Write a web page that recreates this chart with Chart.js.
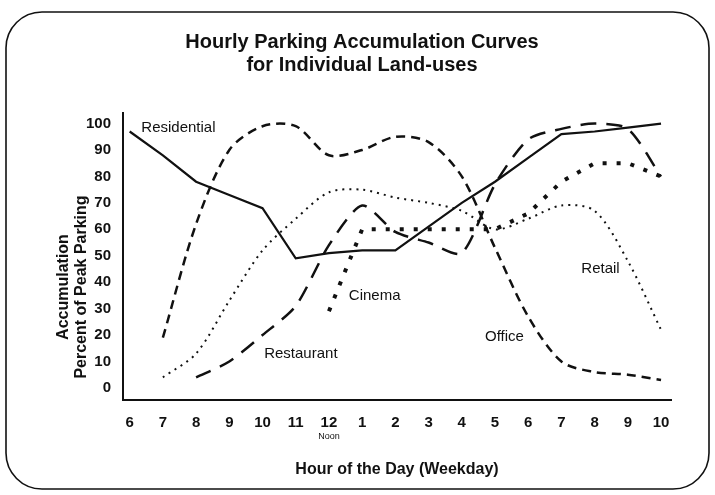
<!DOCTYPE html>
<html>
<head>
<meta charset="utf-8">
<script src="https://cdn.jsdelivr.net/npm/chart.js@4.4.1/dist/chart.umd.min.js"></script>
<style>
  html, body { margin: 0; padding: 0; background: #fff; }
</style>
</head>
<body>
<canvas id="chart-1" width="715" height="495"></canvas>
<script>
// hour of the day, 6 am .. 10 pm
const hourLabels = ["6", "7", "8", "9", "10", "11", "12", "1", "2", "3", "4", "5", "6", "7", "8", "9", "10"];
const yTicks = [0, 10, 20, 30, 40, 50, 60, 70, 80, 90, 100];

// percent of peak parking, one value per hour (null = no data)
const residential = [97, 88, 78, 73, 68, 49, 51, 52, 52, 61, 70, 78, 87, 96, 97, 98.5, 100];
const office = [null, 19, 62, 90, 99, 99, 88, 90, 95, 93, 80, 53, 27, 10, 6, 5, 3];
const retail = [null, 4, 13, 33, 52, 64, 74, 75, 72, 70, 67, 60, 64, 69, 67, 48, 22];
const cinema = [null, null, null, null, null, null, 29, 60, 60, 60, 60, 60, 66, 78, 85, 85, 80];
const restaurant = [null, null, 4, 10, 20, 31, 54, 69, 59, 55, 51, 77, 94, 98, 100, 98, 80];

// curve labels: [text, hour index, value]
const curveLabels = [
  ["Residential", 0.35, 98.5],
  ["Cinema", 6.6, 35],
  ["Restaurant", 4.05, 13],
  ["Office", 10.7, 19.5],
  ["Retail", 13.6, 45],
];

const titleLines = ["Hourly Parking Accumulation Curves", "for Individual Land-uses"];

const ink = "#111";
const font = "'Liberation Sans', Arial, sans-serif";

function pts(values) {
  const out = [];
  values.forEach(function (v, i) {
    if (v !== null) out.push({ x: i, y: v });
  });
  return out;
}

const framePlugin = {
  id: "frame",
  beforeDraw(chart) {
    const c = chart.ctx;
    c.save();
    c.fillStyle = "#fff";
    c.fillRect(0, 0, chart.width, chart.height);
    c.beginPath();
    c.roundRect(6, 12, 703, 477, 36);
    c.lineWidth = 1.6;
    c.strokeStyle = ink;
    c.stroke();
    c.restore();
  },
};

const textPlugin = {
  id: "texts",
  afterDraw(chart) {
    const c = chart.ctx;
    const xs = chart.scales.x;
    const ys = chart.scales.y;
    c.save();
    c.fillStyle = ink;
    c.textBaseline = "middle";
    // title
    c.textAlign = "center";
    c.font = "bold 20px " + font;
    c.fillText(titleLines[0], 362, 42);
    c.fillText(titleLines[1], 362, 65);
    // curve names
    c.textAlign = "left";
    c.font = "15px " + font;
    curveLabels.forEach(function (l) {
      c.fillText(l[0], xs.getPixelForValue(l[1]), ys.getPixelForValue(l[2]));
    });
    // "Noon" under the 12
    c.textAlign = "center";
    c.font = "9px " + font;
    c.fillText("Noon", xs.getPixelForValue(6), 437);
    // y axis title
    c.font = "bold 16px " + font;
    c.translate(73, 287);
    c.rotate(-Math.PI / 2);
    c.fillText("Accumulation", 0, -9);
    c.fillText("Percent of Peak Parking", 0, 9);
    c.restore();
  },
};

function line(label, values, width, dash, tension) {
  return {
    label: label,
    data: pts(values),
    borderColor: ink,
    backgroundColor: ink,
    borderWidth: width,
    borderDash: dash,
    tension: tension,
    pointRadius: 0,
    fill: false,
  };
}

new Chart(document.getElementById("chart-1"), {
  type: "line",
  data: {
    datasets: [
      line("Residential", residential, 2.2, [], 0),
      line("Office", office, 2.5, [9, 6], 0.3),
      line("Retail", retail, 2, [2, 5], 0.3),
      line("Cinema", cinema, 4, [4, 10], 0),
      line("Restaurant", restaurant, 2.5, [16, 10], 0.25),
    ],
  },
  options: {
    responsive: false,
    animation: false,
    layout: {
      padding: { left: 82, right: 44, top: 113, bottom: 16 },
    },
    scales: {
      x: {
        type: "linear",
        min: -0.2,
        max: 16.3,
        grid: { display: false },
        border: { display: true, color: ink, width: 2 },
        afterBuildTicks(axis) {
          axis.ticks = hourLabels.map(function (_, i) { return { value: i }; });
        },
        ticks: {
          color: ink,
          font: { family: font, size: 15, weight: "bold" },
          padding: 6,
          maxRotation: 0,
          autoSkip: false,
          callback: function (v) { return hourLabels[v]; },
        },
        title: {
          display: true,
          text: "Hour of the Day (Weekday)",
          color: ink,
          font: { family: font, size: 16, weight: "bold" },
          padding: { top: 22, bottom: 0 },
        },
      },
      y: {
        min: -4.5,
        max: 104,
        grid: { display: false },
        border: { display: true, color: ink, width: 2 },
        afterBuildTicks(axis) {
          axis.ticks = yTicks.map(function (v) { return { value: v }; });
        },
        ticks: {
          color: ink,
          font: { family: font, size: 15, weight: "bold" },
          padding: 4,
        },
      },
    },
    plugins: {
      legend: { display: false },
      tooltip: { enabled: false },
      title: { display: false },
    },
  },
  plugins: [framePlugin, textPlugin],
});
</script>
</body>
</html>
